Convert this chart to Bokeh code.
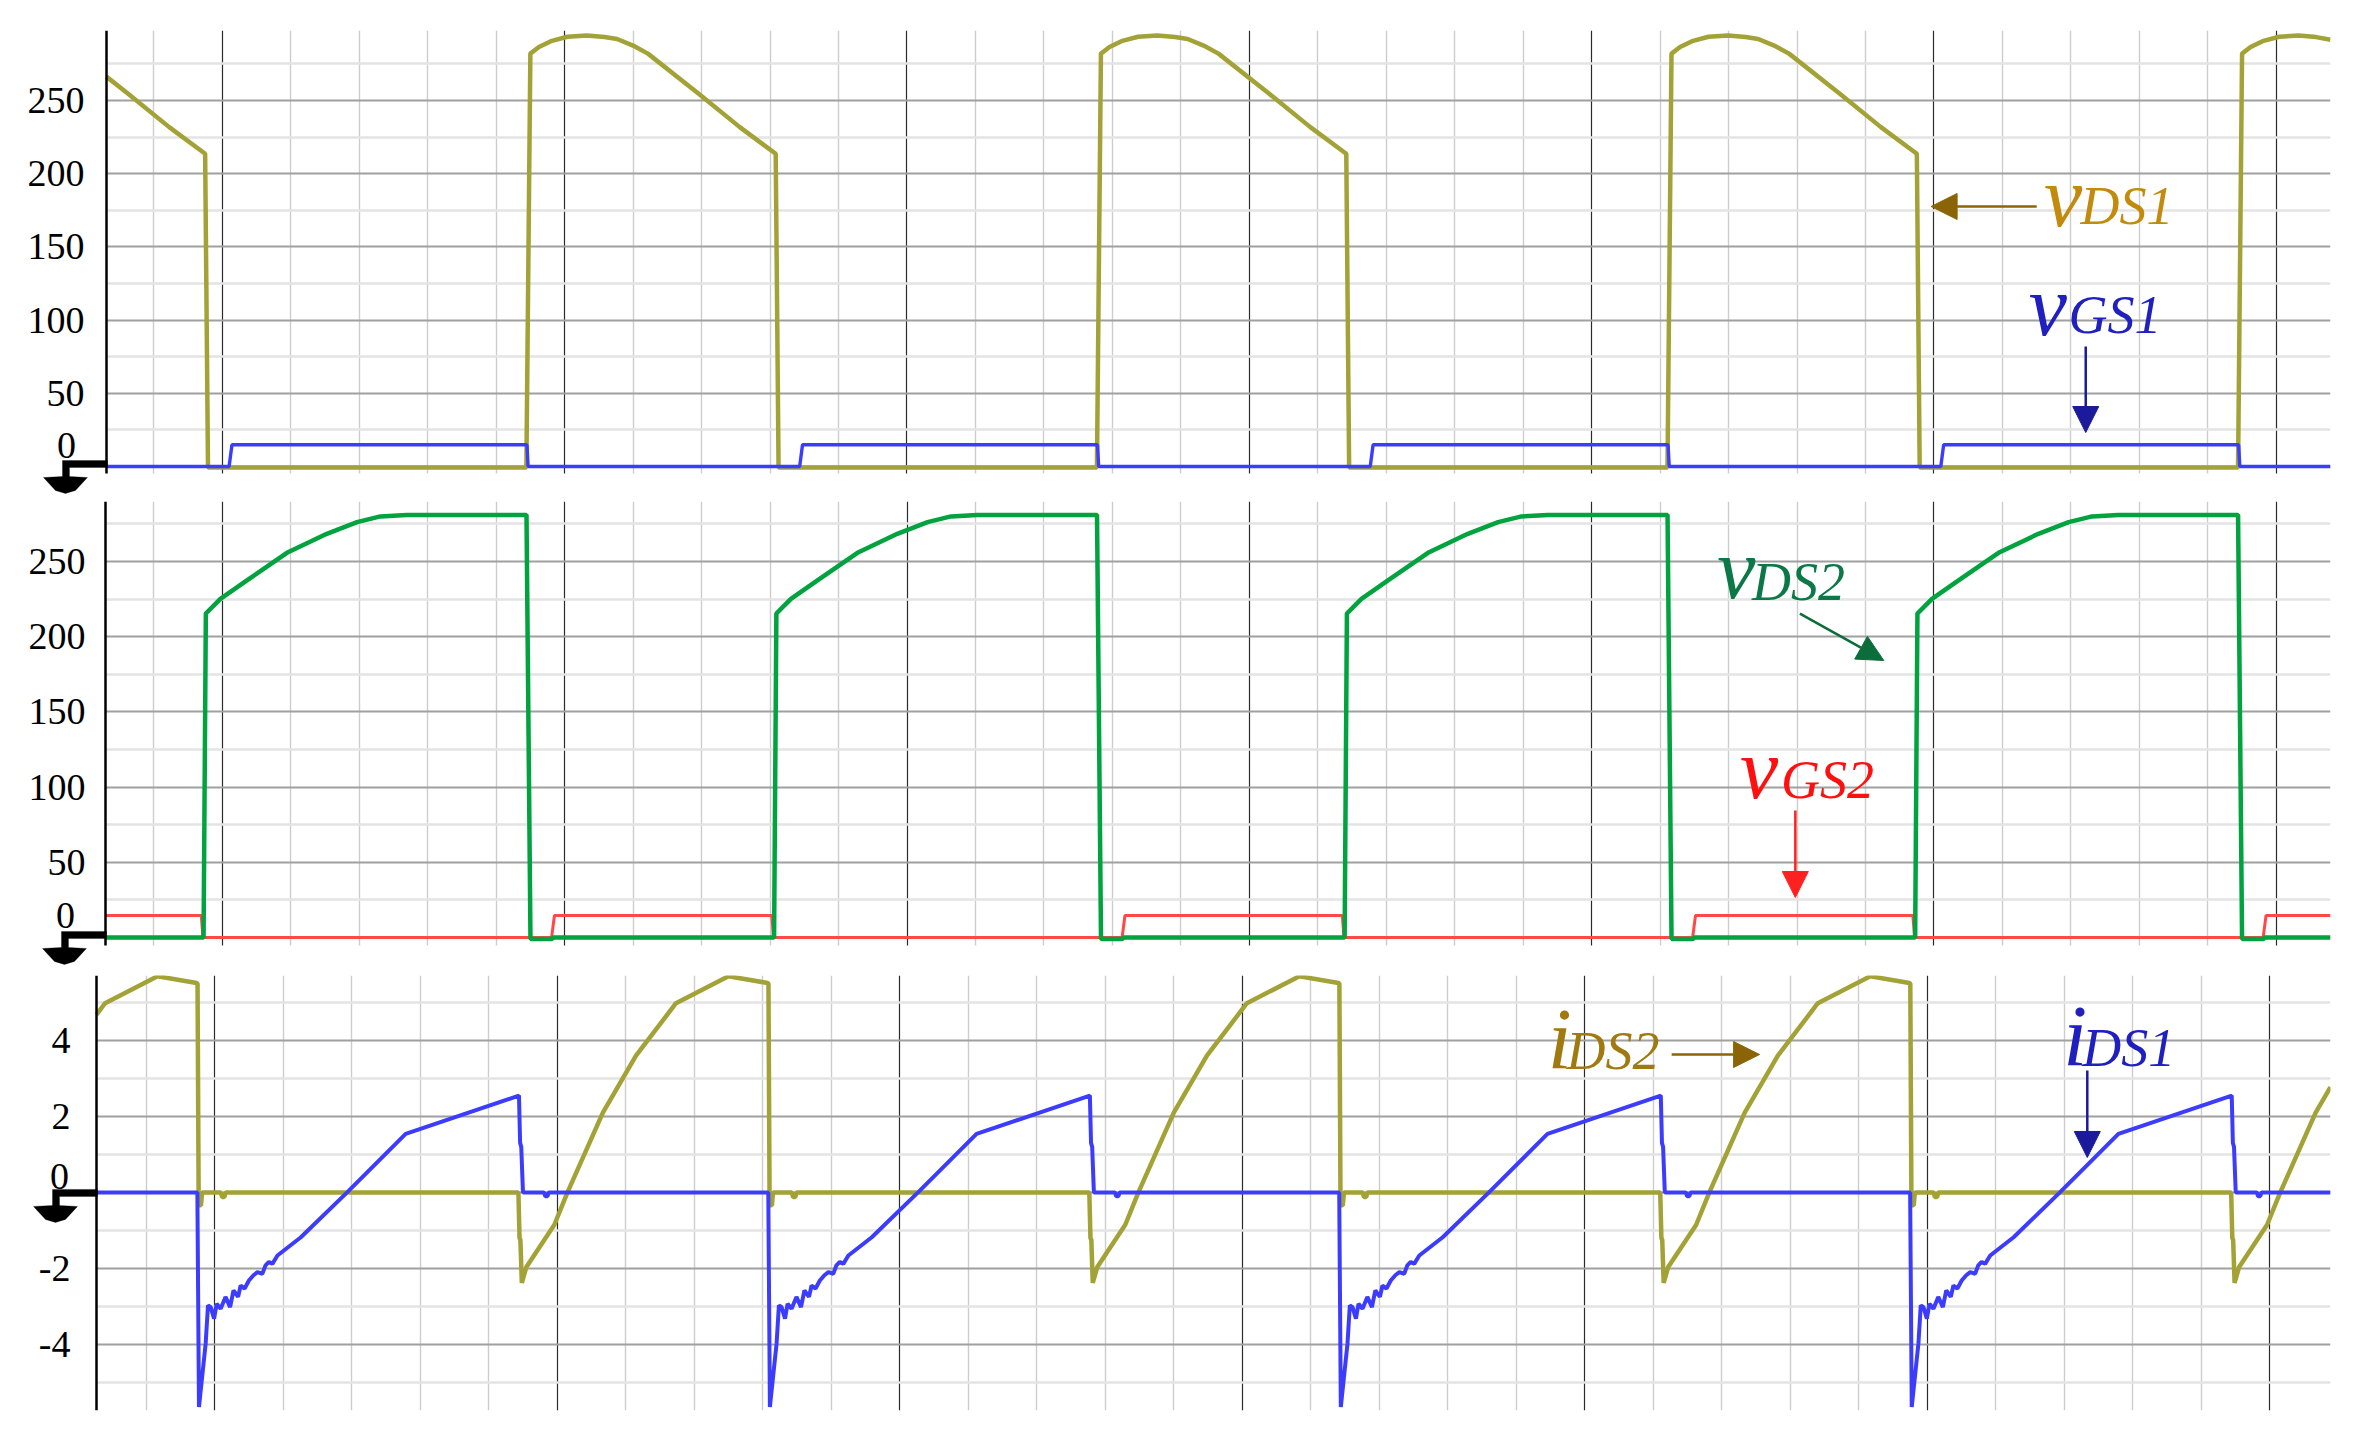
from bokeh.plotting import figure
from bokeh.layouts import column
from bokeh.models import (Range1d, FixedTicker, Label, Arrow, NormalHead, PolyAnnotation,
                          BoxAnnotation)
from bokeh.embed import file_html
from bokeh.resources import INLINE

# ---------------- data (time in microseconds) ----------------
# Panel 1: v_DS1 (V) and v_GS1 (V)
T_VDS1 = [-2.03, -1.65, -0.93, -0.30, -0.25,
          5.33, 5.40, 5.55, 5.76, 6.05, 6.39, 6.70, 6.92, 7.20, 7.46, 8.35, 9.07, 9.70, 9.75,
          15.33, 15.40, 15.55, 15.76, 16.05, 16.39, 16.70, 16.92, 17.20, 17.46, 18.35, 19.07, 19.70, 19.75,
          25.33, 25.40, 25.55, 25.76, 26.05, 26.39, 26.70, 26.92, 27.20, 27.46, 28.35, 29.07, 29.70, 29.75,
          35.33, 35.40, 35.55, 35.76, 36.05, 36.39, 36.70, 36.95]
V_DS1 = [266.3, 254.6, 231.8, 213.6, -0.7,
         -0.7, 282, 286.5, 290.5, 293.5, 294.4, 293.3, 292, 287.5, 282, 254.6, 231.8, 213.6, -0.7,
         -0.7, 282, 286.5, 290.5, 293.5, 294.4, 293.3, 292, 287.5, 282, 254.6, 231.8, 213.6, -0.7,
         -0.7, 282, 286.5, 290.5, 293.5, 294.4, 293.3, 292, 287.5, 282, 254.6, 231.8, 213.6, -0.7,
         -0.7, 282, 286.5, 290.5, 293.5, 294.4, 293.3, 291.5]
T_VGS1 = [-2.03, 0.12, 0.17, 5.34, 5.36, 10.12, 10.17, 15.34, 15.36,
          20.12, 20.17, 25.34, 25.36, 30.12, 30.17, 35.34, 35.36, 36.95]
V_GS1 = [0, 0, 14.8, 14.8, 0, 0, 14.8, 14.8, 0,
         0, 14.8, 14.8, 0, 0, 14.8, 14.8, 0, 0]

# Panel 2: v_DS2 (V) and v_GS2 (V)
T_VDS2 = [-2.05, -0.33, -0.29, -0.035, 0.43, 1.15, 1.83, 2.36, 2.77, 3.23, 5.33, 5.40, 5.77, 5.80,
          9.67, 9.71, 9.965, 10.43, 11.15, 11.83, 12.36, 12.77, 13.23, 15.33, 15.40, 15.77, 15.80,
          19.67, 19.71, 19.965, 20.43, 21.15, 21.83, 22.36, 22.77, 23.23, 25.33, 25.40, 25.77, 25.80,
          29.67, 29.71, 29.965, 30.43, 31.15, 31.83, 32.36, 32.77, 33.23, 35.33, 35.40, 35.77, 35.80,
          36.95]
V_DS2 = [0, 0, 215.4, 225.2, 237.4, 256.2, 268.4, 276.2, 280, 281, 281, -1, -1, 0,
         0, 215.4, 225.2, 237.4, 256.2, 268.4, 276.2, 280, 281, 281, -1, -1, 0,
         0, 215.4, 225.2, 237.4, 256.2, 268.4, 276.2, 280, 281, 281, -1, -1, 0,
         0, 215.4, 225.2, 237.4, 256.2, 268.4, 276.2, 280, 281, 281, -1, -1, 0,
         0]
T_VGS2 = [-2.05, -0.37, -0.34, 5.77, 5.82, 9.63, 9.66, 15.77, 15.82,
          19.63, 19.66, 25.77, 25.82, 29.63, 29.66, 35.77, 35.82, 36.95]
V_GS2 = [14.6, 14.6, 0, 0, 14.6, 14.6, 0, 0, 14.6,
         14.6, 0, 0, 14.6, 14.6, 0, 0, 14.6, 14.6]

# Panel 3: i_DS1 (A) and i_DS2 (A)
T_IDS1 = [-2.07,
          -0.303, -0.275, -0.158, -0.117, -0.07, -0.01, 0.035, 0.105, 0.19, 0.27, 0.33, 0.41, 0.455,
          0.525, 0.60, 0.68, 0.75, 0.835, 0.89, 0.95, 1.01, 1.10, 1.51, 2.32, 3.345, 5.33, 5.35, 5.37,
          5.40, 5.77, 5.79, 5.83, 5.85,
          9.697, 9.725, 9.842, 9.883, 9.93, 9.99, 10.035, 10.105, 10.19, 10.27, 10.33, 10.41, 10.455,
          10.525, 10.60, 10.68, 10.75, 10.835, 10.89, 10.95, 11.01, 11.10, 11.51, 12.32, 13.345, 15.33,
          15.35, 15.37, 15.40, 15.77, 15.79, 15.83, 15.85,
          19.697, 19.725, 19.842, 19.883, 19.93, 19.99, 20.035, 20.105, 20.19, 20.27, 20.33, 20.41, 20.455,
          20.525, 20.60, 20.68, 20.75, 20.835, 20.89, 20.95, 21.01, 21.10, 21.51, 22.32, 23.345, 25.33,
          25.35, 25.37, 25.40, 25.77, 25.79, 25.83, 25.85,
          29.697, 29.725, 29.842, 29.883, 29.93, 29.99, 30.035, 30.105, 30.19, 30.27, 30.33, 30.41, 30.455,
          30.525, 30.60, 30.68, 30.75, 30.835, 30.89, 30.95, 31.01, 31.10, 31.51, 32.32, 33.345, 35.33,
          35.35, 35.37, 35.40, 35.77, 35.79, 35.83, 35.85,
          37.06]
I_DS1 = [0,
         0, -5.65, -3.98, -2.97, -3.02, -3.32, -2.93, -3.06, -2.75, -3.02, -2.58, -2.75, -2.45,
         -2.53, -2.32, -2.18, -2.10, -2.14, -1.92, -1.83, -1.88, -1.66, -1.18, 0, 1.54, 2.55, 1.30, 1.20,
         0, 0, -0.1, -0.1, 0,
         0, -5.65, -3.98, -2.97, -3.02, -3.32, -2.93, -3.06, -2.75, -3.02, -2.58, -2.75, -2.45,
         -2.53, -2.32, -2.18, -2.10, -2.14, -1.92, -1.83, -1.88, -1.66, -1.18, 0, 1.54, 2.55,
         1.30, 1.20, 0, 0, -0.1, -0.1, 0,
         0, -5.65, -3.98, -2.97, -3.02, -3.32, -2.93, -3.06, -2.75, -3.02, -2.58, -2.75, -2.45,
         -2.53, -2.32, -2.18, -2.10, -2.14, -1.92, -1.83, -1.88, -1.66, -1.18, 0, 1.54, 2.55,
         1.30, 1.20, 0, 0, -0.1, -0.1, 0,
         0, -5.65, -3.98, -2.97, -3.02, -3.32, -2.93, -3.06, -2.75, -3.02, -2.58, -2.75, -2.45,
         -2.53, -2.32, -2.18, -2.10, -2.14, -1.92, -1.83, -1.88, -1.66, -1.18, 0, 1.54, 2.55,
         1.30, 1.20, 0, 0, -0.1, -0.1, 0,
         0]
T_IDS2 = [-2.07, -1.92, -1.00, -0.34, -0.30, -0.28, -0.24, -0.22, 0.11, 0.13, 0.17, 0.19,
          5.32, 5.34, 5.355, 5.38, 5.46, 5.95, 6.18, 6.80, 7.38, 8.08, 9.00, 9.66,
          9.70, 9.72, 9.76, 9.78, 10.11, 10.13, 10.17, 10.19,
          15.32, 15.34, 15.355, 15.38, 15.46, 15.95, 16.18, 16.80, 17.38, 18.08, 19.00, 19.66,
          19.70, 19.72, 19.76, 19.78, 20.11, 20.13, 20.17, 20.19,
          25.32, 25.34, 25.355, 25.38, 25.46, 25.95, 26.18, 26.80, 27.38, 28.08, 29.00, 29.66,
          29.70, 29.72, 29.76, 29.78, 30.11, 30.13, 30.17, 30.19,
          35.32, 35.34, 35.355, 35.38, 35.46, 35.95, 36.18, 36.80, 37.06]
I_DS2 = [4.68, 4.98, 5.69, 5.52, 5.50, -0.34, -0.34, 0, 0, -0.12, -0.12, 0,
         0, -1.2, -1.25, -2.38, -1.96, -0.85, 0, 2.1, 3.6, 4.98, 5.69, 5.52,
         5.50, -0.34, -0.34, 0, 0, -0.12, -0.12, 0,
         0, -1.2, -1.25, -2.38, -1.96, -0.85, 0, 2.1, 3.6, 4.98, 5.69, 5.52,
         5.50, -0.34, -0.34, 0, 0, -0.12, -0.12, 0,
         0, -1.2, -1.25, -2.38, -1.96, -0.85, 0, 2.1, 3.6, 4.98, 5.69, 5.52,
         5.50, -0.34, -0.34, 0, 0, -0.12, -0.12, 0,
         0, -1.2, -1.25, -2.38, -1.96, -0.85, 0, 2.1, 2.77]

# axis tick values
V_TICKS = [50, 100, 150, 200, 250]
I_TICKS = [-4, -2, 2, 4]

for a, b in [(T_VDS1, V_DS1), (T_VGS1, V_GS1), (T_VDS2, V_DS2), (T_VGS2, V_GS2),
             (T_IDS1, I_DS1), (T_IDS2, I_DS2)]:
    assert len(a) == len(b), (len(a), len(b))

# ---------------- styling ----------------
FONT = "Liberation Serif"
PX = 57.1            # screen px per microsecond
OLIVE = "#a3a236"
BLUE = "#3c3cff"
GREEN = "#00a33e"
RED = "#ff4848"
W = 2360

X_MAJOR = [0, 6, 12, 18, 24, 30, 36]
X_MINOR = [round(-1.2 + 1.2 * k, 2) for k in range(33) if k % 5 != 1]


def panel(height, bt, bb, t_axis, frame_left_px, frame_right_px, t_end, yr, y_bounds,
          axis_ticks, g_major, g_minor, standoff):
    t_start = t_axis - (frame_left_px - 20) / PX
    p = figure(width=W, height=height, x_range=Range1d(t_start, t_end),
               y_range=Range1d(*yr),
               x_axis_location=None, toolbar_location=None, output_backend="svg",
               min_border_left=20, min_border_right=W - frame_right_px,
               min_border_top=bt, min_border_bottom=bb)
    p.outline_line_color = None
    p.background_fill_color = "white"
    p.border_fill_color = "white"
    ax = p.yaxis[0]
    ax.fixed_location = t_axis
    ax.bounds = y_bounds
    ax.ticker = FixedTicker(ticks=axis_ticks)
    ax.major_label_overrides = {v: str(v) for v in axis_ticks}
    ax.axis_line_color = "black"
    ax.axis_line_width = 2.5
    ax.major_tick_line_color = None
    ax.minor_tick_line_color = None
    ax.major_tick_out = 0
    ax.major_tick_in = 0
    ax.minor_tick_out = 0
    ax.minor_tick_in = 0
    ax.major_label_text_font = FONT
    ax.major_label_text_font_size = "38px"
    ax.major_label_text_color = "black"
    ax.major_label_standoff = standoff
    yg = p.ygrid[0]
    yg.ticker = FixedTicker(ticks=g_major, minor_ticks=g_minor)
    yg.grid_line_color = "#a0a0a0"
    yg.grid_line_width = 1.8
    yg.minor_grid_line_color = "#e4e4e4"
    yg.minor_grid_line_width = 2.6
    xg = p.xgrid[0]
    xg.ticker = FixedTicker(ticks=X_MAJOR, minor_ticks=X_MINOR)
    xg.grid_line_color = "#2a2a2a"
    xg.grid_line_width = 1.2
    xg.minor_grid_line_color = "#cdcdcd"
    xg.minor_grid_line_width = 1.4
    try:
        yg.cross_bounds = (t_axis, t_end)
        xg.cross_bounds = y_bounds
    except Exception:
        p.add_layout(BoxAnnotation(right=t_axis, fill_color="white", fill_alpha=1.0,
                                   line_color=None, level="underlay"))
        p.add_layout(BoxAnnotation(top=y_bounds[0], fill_color="white", fill_alpha=1.0,
                                   line_color=None, level="underlay"))
    return p


def zero_label(p, x, y):
    p.add_layout(Label(x=x, y=y, text="0", text_font=FONT, text_font_size="38px",
                       text_align="center", text_baseline="middle", text_color="black"))


def ground(p, t_axis, py, dy):
    shape = [(-44, -6), (1, -6), (1, 1), (-37, 1), (-37, 10), (-19, 11), (-31, 24),
             (-41, 27), (-51, 24), (-63, 11), (-44, 10)]
    xs = [t_axis + dx / PX for dx, _ in shape]
    ys = [-(d + dy) / py for _, d in shape]
    p.add_layout(PolyAnnotation(xs=xs, ys=ys, fill_color="black", fill_alpha=1.0,
                                line_color="black", line_width=1))


def symbol(p, x, y, sx, sy, main, sub, color):
    p.add_layout(Label(x=x, y=y, text=main, text_font=FONT, text_font_style="italic",
                       text_font_size="86px", text_color=color,
                       text_align="left", text_baseline="alphabetic"))
    p.add_layout(Label(x=sx, y=sy, text=sub, text_font=FONT, text_font_style="italic",
                       text_font_size="54px", text_color=color,
                       text_align="left", text_baseline="alphabetic"))


def arrow(p, x0, y0, x1, y1, color):
    p.add_layout(Arrow(x_start=x0, y_start=y0, x_end=x1, y_end=y1, line_color=color,
                       line_width=2.5,
                       end=NormalHead(size=26, fill_color=color, line_color=color)))


# ---------------- panel 1 (page y 0..500) ----------------
p1 = panel(500, 30, 4, -2.03, 106, 2332, 36.95, (-20.5, 297.8), (-4.8, 297.8), V_TICKS,
           [0] + V_TICKS, [25, 75, 125, 175, 225, 275], 22)
p1.line(T_VDS1, V_DS1, line_color=OLIVE, line_width=4.5)
p1.line(T_VGS1, V_GS1, line_color=BLUE, line_width=3.4)
zero_label(p1, -2.73, 14.3)
ground(p1, -2.03, 1.464, 0)
symbol(p1, 31.93, 184.4, 32.57, 177.6, "v", "DS1", "#c38b0e")
arrow(p1, 31.80, 177.6, 29.95, 177.6, "#8c6408")
symbol(p1, 31.66, 109.3, 32.36, 103.8, "v", "GS1", "#2020c0")
arrow(p1, 32.66, 82.0, 32.66, 23.2, "#1a1a9a")

# ---------------- panel 2 (page y 500..968) ----------------
p2 = panel(468, 1, 2, -2.05, 105, 2332, 36.95, (-19.3, 289.9), (-5.3, 289.9), V_TICKS,
           [0] + V_TICKS, [25, 75, 125, 175, 225, 275], 20)
p2.line(T_VGS2, V_GS2, line_color=RED, line_width=3)
p2.line(T_VDS2, V_DS2, line_color=GREEN, line_width=4.5)
zero_label(p2, -2.75, 14.3)
ground(p2, -2.05, 1.504, 0)
symbol(p2, 26.20, 245.3, 26.81, 236.6, "v", "DS2", "#0c7848")
arrow(p2, 27.65, 215.4, 29.12, 184.2, "#0b6e3a")
symbol(p2, 26.60, 112.3, 27.32, 105.0, "v", "GS2", "#ff1010")
arrow(p2, 27.57, 84.4, 27.57, 26.6, "#ff2020")

# ---------------- panel 3 (page y 968..1450) ----------------
p3 = panel(482, 7, 40, -2.07, 96, 2330, 37.06, (-5.74, 5.71), (-5.74, 5.71), I_TICKS,
           [-4, -2, 0, 2, 4], [-5, -3, -1, 1, 3, 5], 26)
p3.line(T_IDS2, I_DS2, line_color=OLIVE, line_width=4.5)
p3.line(T_IDS1, I_DS1, line_color=BLUE, line_width=4)
zero_label(p3, -2.72, 0.42)
ground(p3, -2.07, 38.0, 3)
symbol(p3, 23.35, 4.05, 23.68, 3.73, "i", "DS2", "#a07a10")
arrow(p3, 25.52, 3.63, 27.06, 3.63, "#8c6408")
symbol(p3, 32.38, 4.13, 32.71, 3.81, "i", "DS1", "#2020c0")
arrow(p3, 32.80, 3.21, 32.80, 0.92, "#1a1a9a")

layout = column(p1, p2, p3)
open("out.html", "w").write(file_html(layout, INLINE))
